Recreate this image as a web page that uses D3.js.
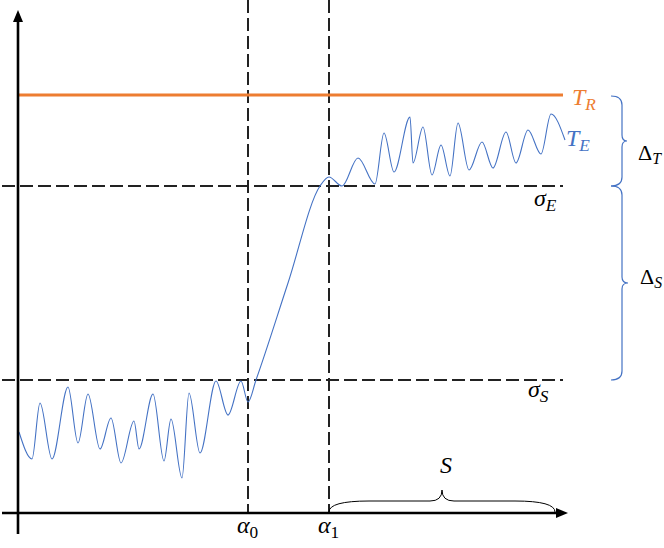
<!DOCTYPE html>
<html>
<head>
<meta charset="utf-8">
<script src="https://cdn.jsdelivr.net/npm/d3@7"></script>
<style>
  html, body { margin: 0; padding: 0; background: #fff; }
  svg { display: block; }
</style>
</head>
<body>
<svg id="chart" width="664" height="548"></svg>
<script>
// ---- data (abstract units) ----
const waveX = [0.2, 2.8, 4.4, 6.8, 10.0, 12.0, 14.0, 16.4, 18.6, 20.6, 23.2, 24.2, 27.0, 29.2, 30.6, 32.8, 34.2, 36.4, 39.6, 42.0, 44.6, 46.0,
               47.6, 54.0, 60.4, 62.2, 64.8, 68.0, 71.4, 73.2, 75.2, 78.4, 79.0, 81.0, 82.8, 84.6, 86.4, 88.0, 90.2, 92.8, 95.0, 97.6, 99.6, 102.0, 104.6, 106.6, 109.4];
const waveY = [16.2, 10.8, 22.0, 10.8, 25.2, 14.0, 23.8, 12.8, 19.0, 10.0, 18.4, 12.8, 23.8, 10.4, 18.8, 7.0, 24.0, 12.0, 26.4, 19.6, 26.4, 22.2,
               26.6, 46.0, 65.4, 67.2, 65.4, 71.0, 65.8, 76.0, 68.2, 79.2, 70.0, 77.2, 67.6, 73.6, 67.4, 78.0, 68.6, 74.2, 69.0, 76.2, 70.0, 76.6, 71.8, 79.8, 74.6];
const levelNames = ["TR", "sigmaE", "sigmaS"];
const levelValues = [83.6, 65.4, 26.6];
const alphaNames = ["α", "α"];
const alphaSubs = ["0", "1"];
const alphaValues = [46.0, 62.2];
const lineEnd = 109.0;
const sBraceEnd = 107.4;

// ---- layout ----
const svg = d3.select("#chart");
const x = d3.scaleLinear().domain([0, 110]).range([18, 568]);
const y = d3.scaleLinear().domain([0, 100]).range([513, 13]);

const BLUE = "#4472C4", ORANGE = "#ED7D31";
const mathFont = "'Liberation Serif', 'DejaVu Serif', serif";

// dashed vertical lines
alphaValues.forEach(a => {
  svg.append("line")
    .attr("x1", x(a)).attr("x2", x(a))
    .attr("y1", 0).attr("y2", y(0))
    .attr("stroke", "#222").attr("stroke-width", 2)
    .attr("stroke-dasharray", "13,5");
});

// dashed horizontal lines (sigma levels)
[levelValues[1], levelValues[2]].forEach(v => {
  svg.append("line")
    .attr("x1", 2).attr("x2", x(lineEnd))
    .attr("y1", y(v)).attr("y2", y(v))
    .attr("stroke", "#222").attr("stroke-width", 2)
    .attr("stroke-dasharray", "13,5");
});

// orange T_R line
svg.append("line")
  .attr("x1", x(0)).attr("x2", x(lineEnd))
  .attr("y1", y(levelValues[0])).attr("y2", y(levelValues[0]))
  .attr("stroke", ORANGE).attr("stroke-width", 3);

// wave
const pts = waveX.map((d, i) => [d, waveY[i]]);
svg.append("path")
  .datum(pts)
  .attr("fill", "none")
  .attr("stroke", BLUE)
  .attr("stroke-width", 1.1)
  .attr("d", d3.line().x(d => x(d[0])).y(d => y(d[1])).curve(d3.curveMonotoneX));

// axes
svg.append("line").attr("x1", x(0)).attr("x2", x(0)).attr("y1", 534).attr("y2", 20)
  .attr("stroke", "#000").attr("stroke-width", 2.6);
svg.append("path").attr("d", `M${x(0)},10 L${x(0)-5},22 L${x(0)+5},22 Z`).attr("fill", "#000");
svg.append("line").attr("x1", 2).attr("x2", 558).attr("y1", y(0)).attr("y2", y(0))
  .attr("stroke", "#000").attr("stroke-width", 2.6);
svg.append("path").attr("d", `M${x(110)},${y(0)} L${x(110)-12},${y(0)-5} L${x(110)-12},${y(0)+5} Z`).attr("fill", "#000");

// brace helper
function brace(p0, p1, perp, b, d, r, rt) {
  const L = Math.hypot(p1[0]-p0[0], p1[1]-p0[1]);
  const ax = (p1[0]-p0[0]) / L, ay = (p1[1]-p0[1]) / L;
  const P = (u, v) => [p0[0] + ax*u + perp[0]*v, p0[1] + ay*u + perp[1]*v];
  const f = p => p[0].toFixed(2) + "," + p[1].toFixed(2);
  const m = L / 2;
  return "M" + f(P(0,0)) +
    " Q" + f(P(0,b)) + " " + f(P(r,b)) +
    " L" + f(P(m-rt,b)) +
    " Q" + f(P(m,b)) + " " + f(P(m,d)) +
    " Q" + f(P(m,b)) + " " + f(P(m+rt,b)) +
    " L" + f(P(L-r,b)) +
    " Q" + f(P(L,b)) + " " + f(P(L,0));
}

// right braces
svg.append("path").attr("d", brace([611, y(levelValues[0])+1], [611, y(levelValues[1])], [1,0], 11, 16, 9, 6))
  .attr("fill", "none").attr("stroke", BLUE).attr("stroke-width", 1.2);
svg.append("path").attr("d", brace([611, y(levelValues[1])], [611, y(levelValues[2])], [1,0], 11, 17, 9, 6))
  .attr("fill", "none").attr("stroke", BLUE).attr("stroke-width", 1.2);
// S brace
svg.append("path").attr("d", brace([x(alphaValues[1]), y(0)-1], [x(sBraceEnd), y(0)-1], [0,-1], 11, 22, 40, 12))
  .attr("fill", "none").attr("stroke", "#000").attr("stroke-width", 1);

// labels
function label(px, py, main, sub, color, italic, size, subItalic) {
  const t = svg.append("text").attr("x", px).attr("y", py)
    .attr("font-family", mathFont).attr("font-size", size).attr("fill", color);
  t.append("tspan").attr("font-style", italic ? "italic" : "normal").text(main);
  if (sub) t.append("tspan").attr("font-style", subItalic === false ? "normal" : "italic")
    .attr("font-size", size*0.72).attr("dy", size*0.2).text(sub);
  return t;
}
label(572, 105, "T", "R", ORANGE, true, 24);
label(566, 146, "T", "E", BLUE, true, 24);
label(638, 160, "Δ", "T", "#000", false, 22);
label(640, 284, "Δ", "S", "#000", false, 22);
label(534, 206, "σ", "E", "#000", true, 24);
label(528, 397, "σ", "S", "#000", true, 24);
alphaValues.forEach((a, i) => {
  label(x(a) - 11, 533, alphaNames[i], alphaSubs[i], "#000", true, 24, false);
});
label(440, 473, "S", null, "#000", true, 24);
</script>
</body>
</html>
